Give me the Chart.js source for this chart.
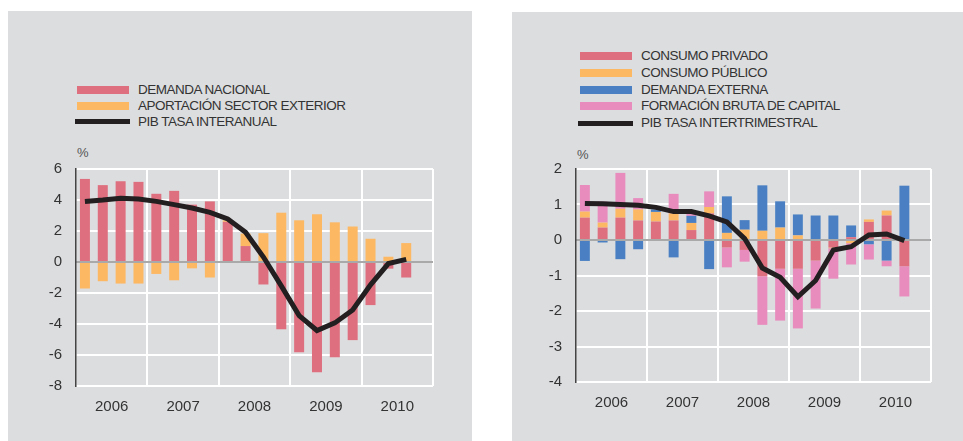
<!DOCTYPE html>
<html>
<head>
<meta charset="utf-8">
<script src="https://cdn.jsdelivr.net/npm/chart.js@4.4.1/dist/chart.umd.min.js"></script>
<style>
  body { margin: 0; background: #fff; width: 963px; height: 441px; position: relative; overflow: hidden;
         font-family: "Liberation Sans", Arial, sans-serif; color: #333; }
  .panel { position: absolute; background: #dcdddf; }
  .leg { position: absolute; font-size: 13.5px; letter-spacing: -0.5px; line-height: 16px; white-space: nowrap; }
  .sw { position: absolute; height: 8px; width: 52px; }
  .swl { position: absolute; height: 5px; width: 55px; background: #231f20; }
  .pct { position: absolute; font-size: 13px; color: #555; }
  canvas { position: absolute; }
</style>
</head>
<body>
<div class="panel" style="left:8px;top:11px;width:464px;height:430px"></div>
<div class="panel" style="left:512px;top:12px;width:451px;height:429px"></div>

<div id="legLeft"></div>
<div id="legRight"></div>
<div class="pct" style="left:77px;top:145px">%</div>
<div class="pct" style="left:577px;top:147px">%</div>

<canvas id="chartLeft" width="430" height="280" style="left:16px;top:160px"></canvas>
<canvas id="chartRight" width="430" height="276" style="left:516px;top:160px"></canvas>

<script>
// trimestres 2006-2010 (el último queda vacío)
const quarters = ['I 06','II 06','III 06','IV 06','I 07','II 07','III 07','IV 07',
  'I 08','II 08','III 08','IV 08','I 09','II 09','III 09','IV 09','I 10','II 10','III 10','IV 10'];
const years = ['2006', '2007', '2008', '2009', '2010'];

// gráfico izquierdo: contribuciones al PIB interanual
const demandaNacional = [5.36, 4.96, 5.21, 5.17, 4.40, 4.59, 3.70, 3.91, 2.59, 1.03, -1.45, -4.34, -5.83, -7.12, -6.15, -5.04, -2.78, -0.43, -1.0];
const sectorExterior = [-1.71, -1.24, -1.39, -1.39, -0.77, -1.18, -0.41, -1.0, 0.1, 0.8, 1.86, 3.18, 2.69, 3.08, 2.56, 2.29, 1.5, 0.34, 1.22];
const pibInteranual = [3.91, 4.0, 4.12, 4.06, 3.91, 3.70, 3.48, 3.2, 2.78, 1.92, 0.32, -1.54, -3.46, -4.42, -3.93, -3.10, -1.47, -0.1, 0.17];

// gráfico derecho: contribuciones al PIB intertrimestral
const consumoPrivado = [0.63, 0.35, 0.63, 0.55, 0.52, 0.55, 0.28, 0.75, -0.21, -0.28, -1.02, -0.81, -0.81, -0.58, -0.21, 0.08, 0.51, 0.69, -0.74];
const consumoPublico = [0.17, 0.14, 0.25, 0.31, 0.27, 0.20, 0.20, 0.18, 0.20, 0.29, 0.26, 0.35, 0.13, 0, -0.02, -0.09, 0.07, 0.14, 0];
const demandaExterna = [-0.59, -0.07, -0.54, -0.26, 0.07, -0.49, 0.2, -0.82, 1.03, 0.27, 1.28, 0.74, 0.59, 0.69, 0.69, 0.33, -0.12, -0.58, 1.53];
const formacionCapital = [0.75, 0.59, 1.01, 0.32, 0, 0.55, 0.05, 0.44, -0.56, -0.33, -1.37, -1.46, -1.68, -1.35, -0.86, -0.6, -0.43, -0.16, -0.85];
const pibIntertrimestral = [1.03, 1.02, 1.0, 0.98, 0.92, 0.8, 0.8, 0.68, 0.51, 0.04, -0.79, -1.05, -1.6, -1.14, -0.28, -0.19, 0.14, 0.17, -0.02];

const yTicksLeft = { min: -8, max: 6, step: 2 };
const yTicksRight = { min: -4, max: 2, step: 1 };

const RED = '#de6f7f', ORANGE = '#fdb863', BLUE = '#4a80c3', PINK = '#e88bbd', BLACK = '#231f20';
const FONT = '"Liberation Sans", Arial, sans-serif';

function legend(el, x, rows, items) {
  let html = '';
  items.forEach((it, i) => {
    const cy = rows[i];
    if (it.line) html += `<div class="swl" style="left:${x - 2}px;top:${cy - 2.5}px"></div>`;
    else html += `<div class="sw" style="left:${x}px;top:${cy - 4}px;background:${it.color}"></div>`;
    html += `<div class="leg" style="left:${x + 61}px;top:${cy - 8}px">${it.label}</div>`;
  });
  document.getElementById(el).innerHTML = html;
}

legend('legLeft', 77, [90, 106, 121.5], [
  { label: 'DEMANDA NACIONAL', color: RED },
  { label: 'APORTACIÓN SECTOR EXTERIOR', color: ORANGE },
  { label: 'PIB TASA INTERANUAL', line: true }
]);
legend('legRight', 580, [56, 73, 90, 106, 123], [
  { label: 'CONSUMO PRIVADO', color: RED },
  { label: 'CONSUMO PÚBLICO', color: ORANGE },
  { label: 'DEMANDA EXTERNA', color: BLUE },
  { label: 'FORMACIÓN BRUTA DE CAPITAL', color: PINK },
  { label: 'PIB TASA INTERTRIMESTRAL', line: true }
]);

// línea del cero por encima de las barras
const zeroLine = {
  id: 'zeroLine',
  beforeDatasetDraw(chart, args) {
    if (args.meta.type !== 'line') return;
    const { ctx, chartArea } = chart;
    const y = chart.scales.y.getPixelForValue(0);
    ctx.save();
    ctx.strokeStyle = '#555';
    ctx.lineWidth = 1.2;
    ctx.beginPath();
    ctx.moveTo(chartArea.left, y);
    ctx.lineTo(chartArea.right, y);
    ctx.stroke();
    ctx.restore();
  }
};

function bar(label, data, color) {
  return { type: 'bar', label, data, backgroundColor: color, stack: 'a', order: 1,
    barPercentage: 0.56, categoryPercentage: 1 };
}

function makeChart(id, datasets, yt, padRight) {
  new Chart(document.getElementById(id), {
    data: { labels: quarters, datasets },
    plugins: [zeroLine],
    options: {
      responsive: false,
      animation: false,
      layout: { padding: { top: 7, right: padRight, left: 0, bottom: 0 } },
      plugins: { legend: { display: false }, tooltip: { enabled: false } },
      scales: {
        x: { type: 'category', labels: quarters, offset: true, stacked: true, display: false },
        x2: {
          type: 'category', labels: years, offset: true, position: 'bottom',
          grid: { offset: true, lineWidth: 2, drawTicks: false,
            color: c => c.index === 0 ? 'rgba(0,0,0,0)' : '#ffffff' },
          border: { display: false },
          ticks: { padding: 12, color: '#333', font: { family: FONT, size: 15 } },
          afterFit: s => { s.height = 54; }
        },
        y: {
          min: yt.min, max: yt.max, stacked: true,
          ticks: { stepSize: yt.step, padding: 0, color: '#333', font: { family: FONT, size: 15 } },
          grid: { color: '#ffffff', lineWidth: 2, drawTicks: true, tickLength: 14, tickColor: 'rgba(0,0,0,0)' },
          border: { color: '#444', width: 1.5 },
          afterFit: s => { s.width = 60; }
        }
      }
    }
  });
}

makeChart('chartLeft', [
  { type: 'line', label: 'PIB TASA INTERANUAL', data: pibInteranual, borderColor: BLACK, borderWidth: 5,
    pointRadius: 0, tension: 0, stack: 'l', order: 0 },
  bar('DEMANDA NACIONAL', demandaNacional, RED),
  bar('APORTACIÓN SECTOR EXTERIOR', sectorExterior, ORANGE)
], yTicksLeft, 13);

makeChart('chartRight', [
  { type: 'line', label: 'PIB TASA INTERTRIMESTRAL', data: pibIntertrimestral, borderColor: BLACK, borderWidth: 5,
    pointRadius: 0, tension: 0, stack: 'l', order: 0 },
  bar('CONSUMO PRIVADO', consumoPrivado, RED),
  bar('CONSUMO PÚBLICO', consumoPublico, ORANGE),
  bar('DEMANDA EXTERNA', demandaExterna, BLUE),
  bar('FORMACIÓN BRUTA DE CAPITAL', formacionCapital, PINK)
], yTicksRight, 15);
</script>
</body>
</html>
